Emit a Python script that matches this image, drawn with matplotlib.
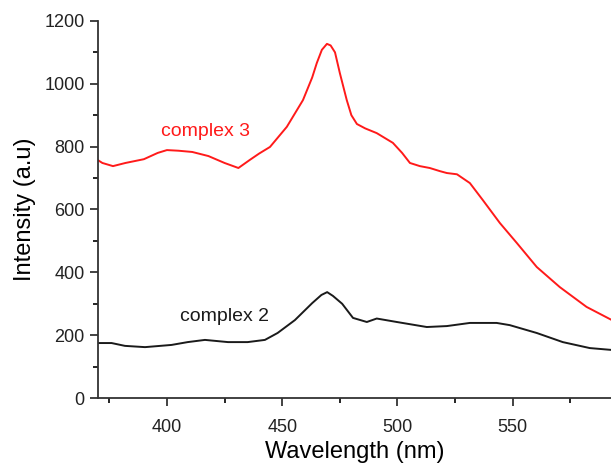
import matplotlib.pyplot as plt
from matplotlib.ticker import MultipleLocator

plt.rcParams['font.family'] = ['Liberation Sans', 'DejaVu Sans']

# complex 3 (red)
wl3 = [369, 372, 376.6, 382, 390, 396, 400, 405, 411, 418, 425, 431, 436, 440, 444.7,
       452, 459, 463, 465, 467.2, 469.4, 471, 472.9, 475, 478, 480, 482.4, 486, 491,
       498, 502, 505.4, 509.7, 514, 518.4, 521.4, 525.8, 531.4, 537, 544.4, 551.8,
       560.4, 570.4, 582, 593]
int3 = [762, 748, 738, 748, 760, 780, 789, 787, 783, 770, 748, 732, 758, 778, 799,
        863, 948, 1020, 1066, 1108, 1127, 1122, 1100, 1034, 948, 900, 872, 858, 843,
        812, 780, 748, 738, 732, 722, 716, 712, 684, 630, 557, 493,
        417, 353, 290, 248]

# complex 2 (black)
wl2 = [369, 376, 381.8, 390.5, 402, 409, 416.5, 426.5, 435, 442.5, 448, 455.5, 463,
       467, 469.5, 472, 476, 480.7, 486.7, 491, 499.7, 512.7, 521.4, 531.4, 543,
       548.7, 560.4, 571.7, 583.4, 593]
int2 = [175, 175, 166, 162, 169, 178, 185, 178, 178, 185, 207, 248, 302,
        328, 337, 325, 300, 255, 242, 253, 242, 226, 229, 239, 239,
        232, 207, 178, 159, 153]

fig = plt.figure(figsize=(6.11, 4.65), dpi=100)
ax = fig.add_axes([0.160, 0.144, 0.8396, 0.811])

ax.plot(wl3, int3, color='#ff1a1a', lw=1.4)
ax.plot(wl2, int2, color='#1a1a1a', lw=1.4)

ax.text(397.5, 847, 'complex 3', color='#ff1a1a', fontsize=14, va='center')
ax.text(405.5, 258, 'complex 2', color='#1a1a1a', fontsize=14, va='center')

ax.set_xlim(370, 592.5)
ax.set_ylim(0, 1200)
ax.xaxis.set_major_locator(MultipleLocator(50))
ax.xaxis.set_minor_locator(MultipleLocator(25))
ax.yaxis.set_major_locator(MultipleLocator(200))
ax.yaxis.set_minor_locator(MultipleLocator(100))
ax.tick_params(which='major', direction='out', length=6, width=1.2, labelsize=13, colors='#222222')
ax.tick_params(which='minor', direction='out', length=3.5, width=1.2)
ax.tick_params(axis='x', which='major', pad=9)

ax.spines['top'].set_visible(False)
ax.spines['right'].set_visible(False)
for s in ('left', 'bottom'):
    ax.spines[s].set_linewidth(1.3)
    ax.spines[s].set_color('#333333')

ax.set_xlabel('Wavelength (nm)', fontsize=17, labelpad=4)
ax.set_ylabel('Intensity (a.u)', fontsize=17, labelpad=6)

fig.savefig('out.png', dpi=100)
